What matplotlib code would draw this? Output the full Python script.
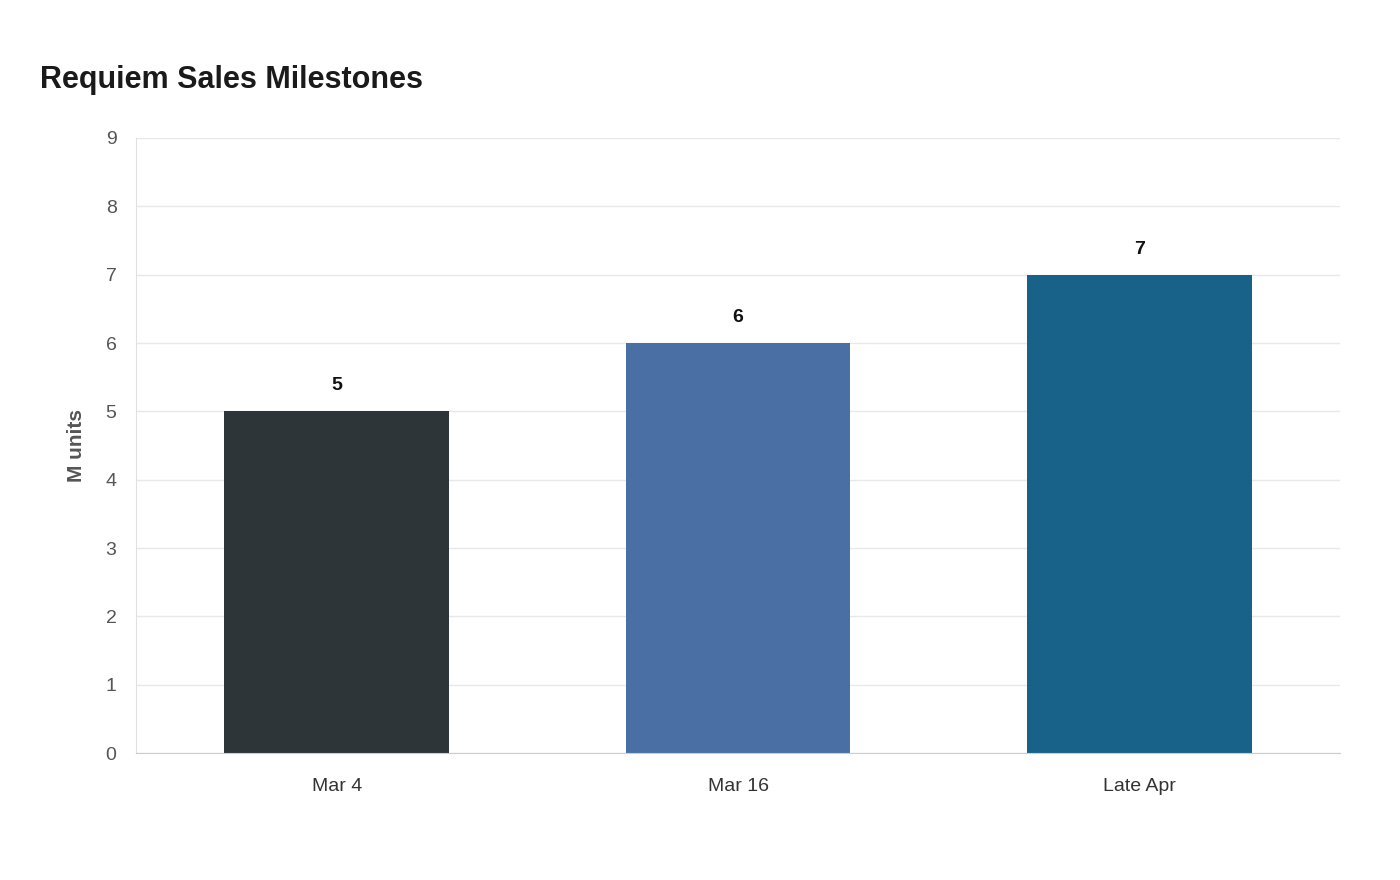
import matplotlib
matplotlib.use("Agg")
import matplotlib.pyplot as plt
from matplotlib.patches import FancyBboxPatch

categories = ["Mar 4", "Mar 16", "Late Apr"]
values = [5, 6, 7]
colors = ["#2e3538", "#4a6fa5", "#186289"]

plt.rcParams['font.family'] = ['Liberation Sans', 'DejaVu Sans']
fig = plt.figure(figsize=(14, 8.8), dpi=100)
ax = fig.add_axes([136/1400, 1-753/880, (1340-136)/1400, (753-138)/880])

w = 0.56
bars = ax.bar(range(len(values)), values, width=w, color=colors, zorder=2)
for b, v in zip(bars, values):
    ax.text(b.get_x()+b.get_width()/2, v+0.25, str(v), ha='center', va='bottom',
            fontsize=14, fontweight='bold', color='#111111')

ax.set_xlim(-0.5, 2.5)
ax.set_ylim(0, 9)
ax.set_yticks(range(10))
ax.set_xticks(range(len(categories)))
ax.set_xticklabels(categories)
ax.tick_params(axis='both', labelsize=14, colors='#555555', length=0)
ax.tick_params(axis='x', pad=18, labelcolor='#333333')
ax.tick_params(axis='y', pad=14)
ax.grid(axis='y', color='#e8e8e8', linewidth=1, zorder=0)
for s in ['top', 'right']:
    ax.spines[s].set_visible(False)
ax.spines['left'].set_color('#e0e0e0')
ax.spines['bottom'].set_color('#cccccc')
ax.set_ylabel("M units", fontsize=15, fontweight='bold', color='#555555', labelpad=14)
fig.text(40/1400, 1-80/880, "Requiem Sales Milestones", fontsize=22, fontweight='bold',
         color='#1a1a1a', va='center', ha='left')
fig.savefig("out.png", dpi=100)
